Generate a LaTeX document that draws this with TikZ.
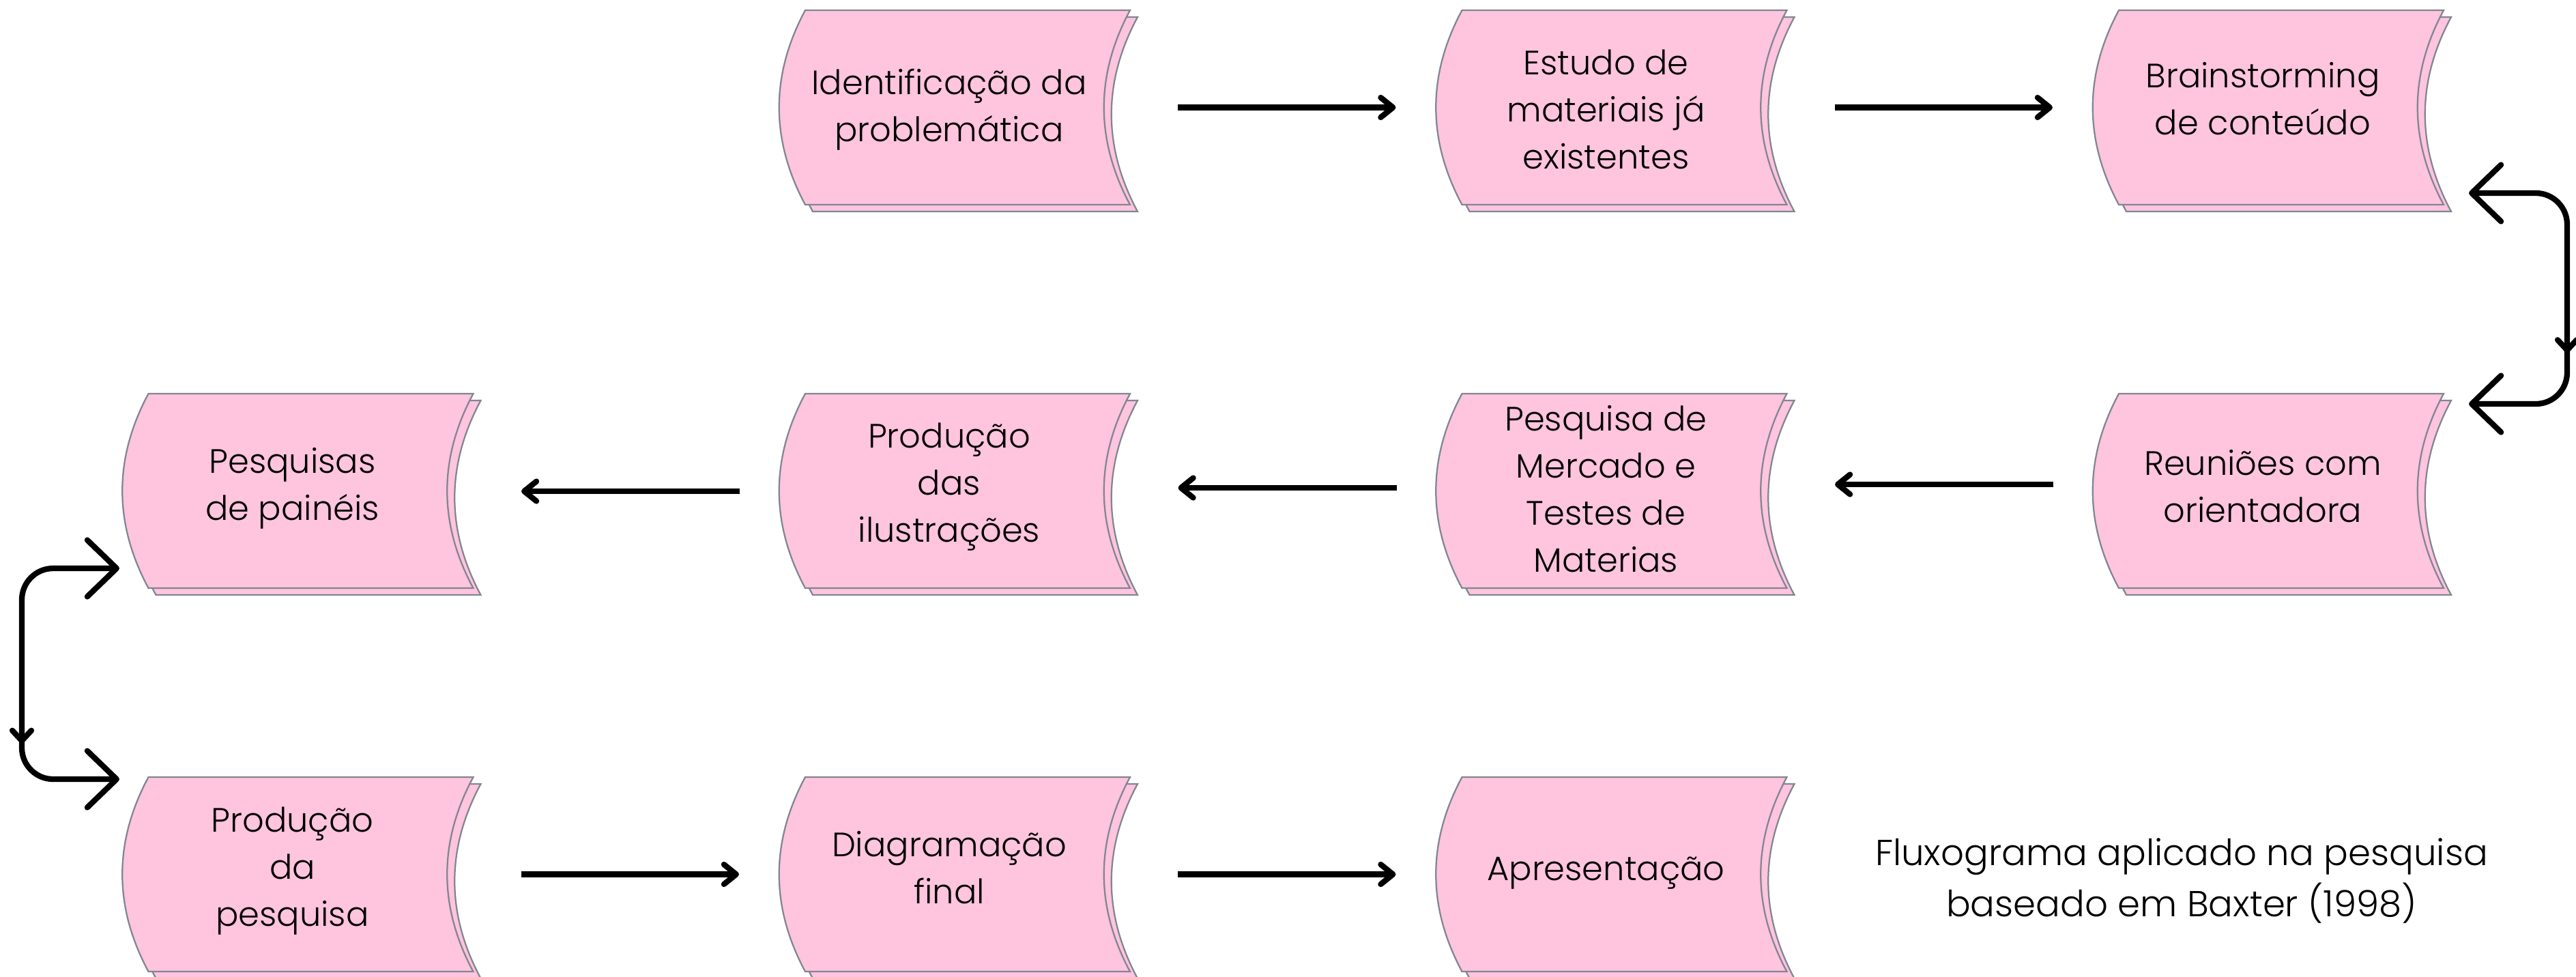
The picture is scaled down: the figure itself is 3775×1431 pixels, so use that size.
\documentclass[tikz,border=0pt]{standalone}
\usepackage{fontspec}
\setmainfont{Poppins}[UprightFont={* Light}]
\usetikzlibrary{arrows.meta,decorations.markings,calc}
\definecolor{boxpink}{RGB}{255,196,222}
\definecolor{boxedge}{RGB}{128,134,145}
\tikzset{
  sheetpath/.style={fill=boxpink, draw=boxedge, line width=0.45pt, line join=miter},
  sheet/.pic={\path[sheetpath] (38,0) -- (514,0) .. controls (463,95) and (463,190) .. (514,285) -- (38,285) .. controls (-13,190) and (-13,95) .. cycle;},
  boxframe/.style={minimum width=102.8pt, minimum height=57pt, inner sep=0pt, outer sep=0pt},
  boxtext/.style={font=\fontsize{9.9}{13.8}\selectfont, align=center, inner sep=0pt},
  captext/.style={font=\fontsize{10.6}{15}\selectfont, align=center, inner sep=0pt},
  conn/.style={line width=1.65pt, black},
  flow/.style={conn, -{Straight Barb[length=3.6pt, width=5.8pt, line cap=round, line join=round]}},
  loopconn/.style={conn, rounded corners=9.2pt, line cap=round,
    {Straight Barb[length=8.6pt, width=16.6pt, line cap=round, line join=round]}-{Straight Barb[length=8.6pt, width=16.6pt, line cap=round, line join=round]}},
  midmark/.style={postaction={decorate, decoration={markings, mark=at position #1 with {\arrow{Straight Barb[length=3pt, width=5.6pt, line cap=round, line join=round]}}}}},
}
\begin{document}
\begin{tikzpicture}[x=0.2pt, y=-0.2pt]
\useasboundingbox (0,0) rectangle (3775,1431);
% sheets (back then front)
\foreach \L/\T in {1142/15, 2104.5/15, 3067/15, 179.5/577, 1142/577, 2104.5/577, 3067/577, 179.5/1139, 1142/1139, 2104.5/1139}{
  \pic at (\L+11,\T+10) {sheet};
  \pic at (\L,\T) {sheet};
}
% frames
\node[boxframe] (f1) at (1399,157.5) {};
\node[boxframe] (f2) at (2361.5,157.5) {};
\node[boxframe] (f3) at (3324,157.5) {};
\node[boxframe] (f4) at (436.5,719.5) {};
\node[boxframe] (f5) at (1399,719.5) {};
\node[boxframe] (f6) at (2361.5,719.5) {};
\node[boxframe] (f7) at (3324,719.5) {};
\node[boxframe] (f8) at (436.5,1281.5) {};
\node[boxframe] (f9) at (1399,1281.5) {};
\node[boxframe] (f10) at (2361.5,1281.5) {};
% texts
\node[boxtext] (t1) at (1391,161) {Identificação da\\problemática};
\node[boxtext] (t2) at (2353.5,160) {Estudo de\\materiais já\\existentes};
\node[boxtext] (t3) at (3316,145) {Brainstorming\\de conteúdo};
\node[boxtext] (t4) at (428.5,716) {Pesquisas\\de painéis};
\node[boxtext] (t5) at (1391,714) {Produção\\das\\ilustrações};
\node[boxtext] (t6) at (2353.5,717) {Pesquisa de\\Mercado e\\Testes de\\Materias};
\node[boxtext] (t7) at (3316,713) {Reuniões com\\orientadora};
\node[boxtext] (t8) at (428.5,1277) {Produção\\da\\pesquisa};
\node[boxtext] (t9) at (1391,1272) {Diagramação\\final};
\node[boxtext] (t10) at (2353.5,1280) {Apresentação};
\node[captext] (cap) at (3197,1291) {Fluxograma aplicado na pesquisa\\baseado em Baxter (1998)};
% straight connectors
\draw[flow] ($(f1.east)+(70,0)$) -- ($(f2.west)+(-59,0)$);
\draw[flow] ($(f2.east)+(70,0)$) -- ($(f3.west)+(-59,0)$);
\draw[flow] ($(f7.west)+(-58,-9.5)$) -- ($(f6.east)+(70.5,-9.5)$);
\draw[flow] ($(f6.west)+(-58,-4.5)$) -- ($(f5.east)+(70.5,-4.5)$);
\draw[flow] ($(f5.west)+(-58,0.5)$) -- ($(f4.east)+(70.5,0.5)$);
\draw[flow] ($(f8.east)+(70,0)$) -- ($(f9.west)+(-59,0)$);
\draw[flow] ($(f9.east)+(70,0)$) -- ($(f10.west)+(-59,0)$);
% looping connectors
\coordinate (ra) at ($(f3.south east)+(37,-17)$);
\coordinate (rb) at ($(f7.north east)+(37,15)$);
\coordinate (la) at ($(f4.south west)+(-4.5,-29)$);
\coordinate (lb) at ($(f8.north west)+(-4.5,3)$);
\draw[loopconn, midmark=71.7pt] (ra) -- ++(144,0) |- (rb);
\draw[loopconn, midmark=76pt] (la) -- ++(-143,0) |- (lb);
\end{tikzpicture}
\end{document}
